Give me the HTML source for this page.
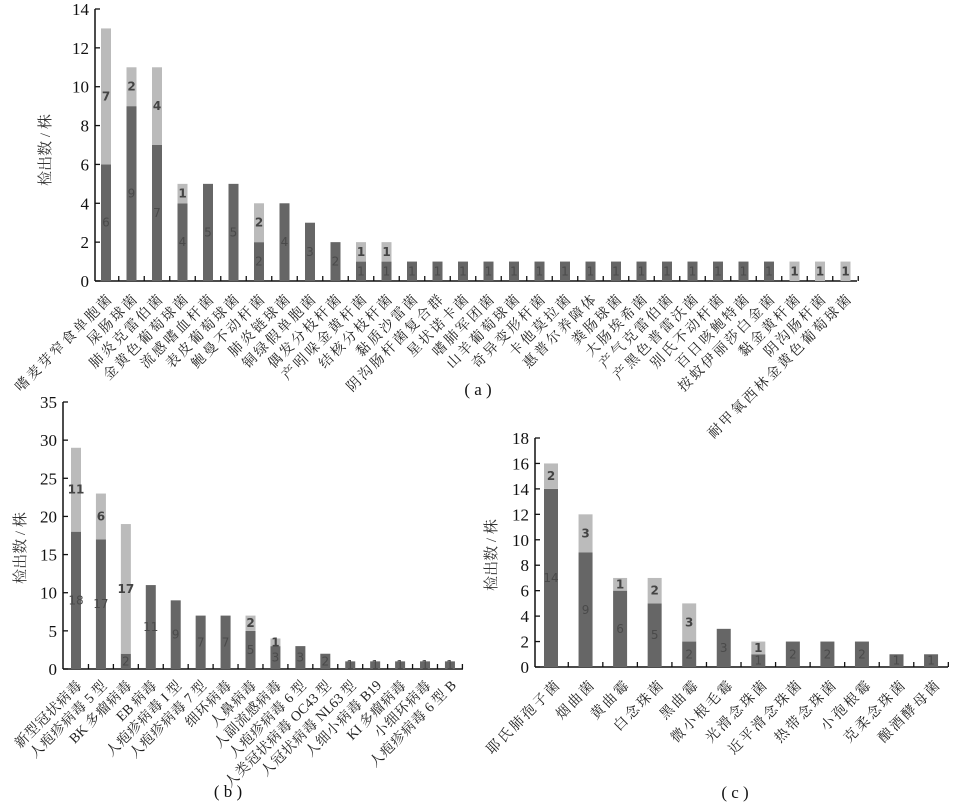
<!DOCTYPE html>
<html><head><meta charset="utf-8"><style>
body{margin:0;background:#fff;}
svg{display:block;}
.t{font-family:"Liberation Serif","Noto Serif CJK SC",serif;font-size:17px;fill:#111;}
.l{font-family:"Liberation Serif","Noto Serif CJK SC",serif;font-size:14px;letter-spacing:2.5px;fill:#222;}
.l tspan{letter-spacing:0.5px;font-size:15px;}
.lb{letter-spacing:0.8px;}
.lb tspan{letter-spacing:0px;font-size:14px;}
.yl{font-family:"Liberation Serif","Noto Serif CJK SC",serif;font-size:15px;fill:#333;}
.d{fill:#666;} .g{fill:#bbb;}
.vd{font-family:"DejaVu Sans",sans-serif;font-size:12px;fill:#4a4a4a;text-anchor:middle;}
.vg{font-family:"DejaVu Sans",sans-serif;font-size:12px;font-weight:bold;fill:#444;text-anchor:middle;}
</style></head><body>
<svg width="958" height="807" viewBox="0 0 958 807" xmlns="http://www.w3.org/2000/svg">
</svg>
<script>
const svg=document.querySelector('svg');
let out='';
function chart(o){
 const {ax,y0,ymax,yTop,xEnd,step,c0,sp,w,data,labels,lx,ly,cap,capx,capy,ylx,yly}=o;
 const cls=o.cls||'l';
 const s=(y0-yTop)/ymax;
 out+=`<line x1="${ax}" y1="${yTop}" x2="${ax}" y2="${y0}" stroke="#111" stroke-width="1.5"/>`;
 out+=`<line x1="${ax}" y1="${y0}" x2="${xEnd}" y2="${y0}" stroke="#111" stroke-width="1.5"/>`;
 for(let v=0;v<=ymax;v+=step){const y=y0-v*s;out+=`<line x1="${ax}" y1="${y}" x2="${ax+5}" y2="${y}" stroke="#111" stroke-width="1.3"/><text class="t" x="${ax-6}" y="${y+6}" text-anchor="end">${v}</text>`;}
 data.forEach((d,i)=>{const c=c0+sp*i;const [a,b]=d;
  if(a){out+=`<rect class="d" x="${c-w/2}" y="${y0-a*s}" width="${w}" height="${a*s}"/>`;out+=`<text class="vd" x="${c}" y="${y0-a*s/2+4}">${a}</text>`;}
  if(b){out+=`<rect class="g" x="${c-w/2}" y="${y0-(a+b)*s}" width="${w}" height="${b*s}"/>`;out+=`<text class="vg" x="${c}" y="${y0-(a+b/2)*s+4}">${b}</text>`;}
  const tx=c+sp/2;out+=`<line x1="${tx}" y1="${y0}" x2="${tx}" y2="${y0-5}" stroke="#111" stroke-width="1.3"/>`;
  const lab=labels[i].replace(/([A-Za-z0-9 ]+)/g,'<tspan>$1</tspan>');
  out+=`<text class="${cls}" text-anchor="end" transform="translate(${c+lx},${y0+ly}) rotate(-45)">${lab}</text>`;
 });
 out+=`<text class="yl" text-anchor="middle" transform="translate(${ylx},${yly}) rotate(-90)">检出数 / 株</text>`;
 out+=`<text class="t" x="${capx}" y="${capy}" text-anchor="middle">(  ${cap}  )</text>`;
}
chart({ax:95,y0:281,ymax:14,yTop:9,xEnd:857,step:2,c0:106,sp:25.5,w:10,lx:8,ly:18,cap:'a',capx:478,capy:395,ylx:50,yly:150,
 data:[[6,7],[9,2],[7,4],[4,1],[5,0],[5,0],[2,2],[4,0],[3,0],[2,0],[1,1],[1,1],[1,0],[1,0],[1,0],[1,0],[1,0],[1,0],[1,0],[1,0],[1,0],[1,0],[1,0],[1,0],[1,0],[1,0],[1,0],[0,1],[0,1],[0,1]],
 labels:['嗜麦芽窄食单胞菌','屎肠球菌','肺炎克雷伯菌','金黄色葡萄球菌','流感嗜血杆菌','表皮葡萄球菌','鲍曼不动杆菌','肺炎链球菌','铜绿假单胞菌','偶发分枝杆菌','产吲哚金黄杆菌','结核分枝杆菌','黏质沙雷菌','阴沟肠杆菌复合群','星状诺卡菌','嗜肺军团菌','山羊葡萄球菌','奇异变形杆菌','卡他莫拉菌','惠普尔养障体','粪肠球菌','大肠埃希菌','产气克雷伯菌','产黑色普雷沃菌','别氏不动杆菌','百日咳鲍特菌','按蚊伊丽莎白金菌','黏金黄杆菌','阴沟肠杆菌','耐甲氧西林金黄色葡萄球菌']});
chart({cls:'l lb',ax:63,y0:669,ymax:35,yTop:402,xEnd:463,step:5,c0:76,sp:24.93,w:10,lx:7,ly:17,cap:'b',capx:228,capy:797,ylx:25,yly:548,
 data:[[18,11],[17,6],[2,17],[11,0],[9,0],[7,0],[7,0],[5,2],[3,1],[3,0],[2,0],[1,0],[1,0],[1,0],[1,0],[1,0]],
 labels:['新型冠状病毒','人疱疹病毒 5 型','BK 多瘤病毒','EB 病毒','人疱疹病毒 I 型','人疱疹病毒 7 型','细环病毒','人鼻病毒','人副流感病毒','人疱疹病毒 6 型','人类冠状病毒 OC43 型','人冠状病毒 NL63 型','人细小病毒 B19','KI 多瘤病毒','小细环病毒','人疱疹病毒 6 型 B']});
chart({ax:535,y0:667,ymax:18,yTop:438,xEnd:948,step:2,c0:551,sp:34.55,w:14,lx:11,ly:18,cap:'c',capx:735,capy:798,ylx:496,yly:555,
 data:[[14,2],[9,3],[6,1],[5,2],[2,3],[3,0],[1,1],[2,0],[2,0],[2,0],[1,0],[1,0]],
 labels:['耶氏肺孢子菌','烟曲菌','黄曲霉','白念珠菌','黑曲霉','微小根毛霉','光滑念珠菌','近平滑念珠菌','热带念珠菌','小孢根霉','克柔念珠菌','酿酒酵母菌']});
svg.innerHTML=out;
</script>
</body></html>
